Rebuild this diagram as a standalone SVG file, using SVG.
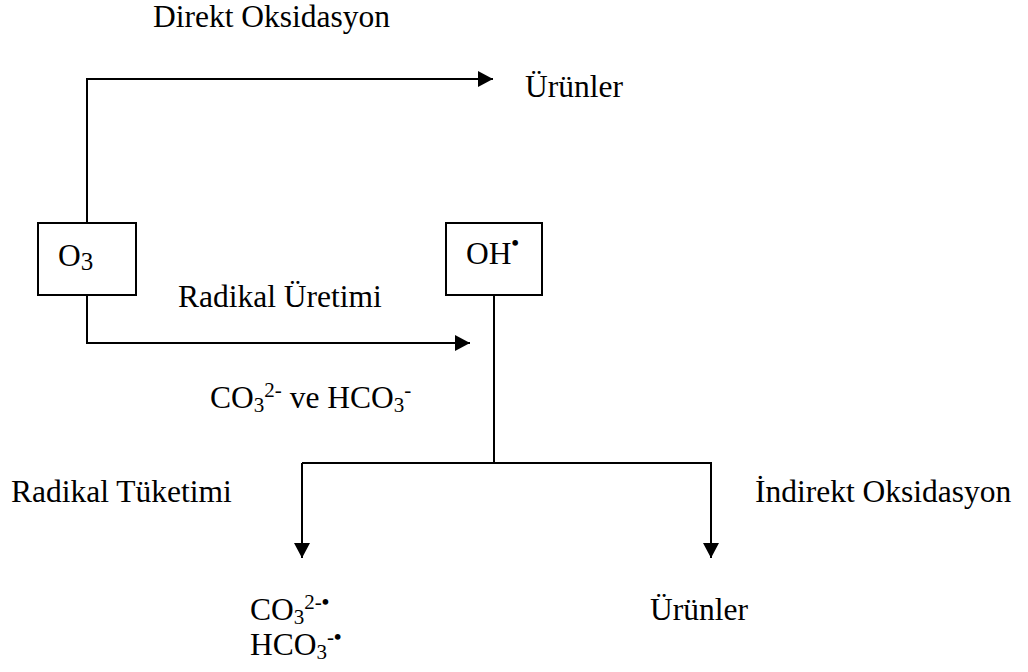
<svg xmlns="http://www.w3.org/2000/svg" width="1028" height="672" viewBox="0 0 1028 672">
<style>
text{font-family:"Liberation Serif","Times New Roman",serif;font-size:31.5px;fill:#000}
.sub{font-size:21px}
.sup{font-size:21px}
.sub3{font-size:25px}
.dot{font-size:21px;font-weight:bold}
.box{fill:#fff;stroke:#000;stroke-width:2}
.ln{fill:none;stroke:#000;stroke-width:2}
</style>
<defs>
<marker id="ah" markerUnits="userSpaceOnUse" markerWidth="16" markerHeight="18" refX="15" refY="8" orient="auto">
<polygon points="0,0 15,8 0,16" fill="#000"/>
</marker>
</defs>
<g id="connectors">
<polyline class="ln" points="87,223 87,79 493,79" marker-end="url(#ah)"/>
<polyline class="ln" points="87,295 87,343 470,343" marker-end="url(#ah)"/>
<line class="ln" x1="494" y1="295" x2="494" y2="463"/>
<polyline class="ln" points="302,463 711,463 711,558" marker-end="url(#ah)"/>
<line class="ln" x1="302" y1="463" x2="302" y2="558" marker-end="url(#ah)"/>
</g>
<g id="label-direkt"><text x="153" y="27">Direkt Oksidasyon</text></g>
<g id="node-urunler-top"><text x="525" y="97">Ürünler</text></g>
<g id="node-o3">
<rect class="box" x="38" y="223" width="98" height="72"/>
<text x="58" y="266">O<tspan class="sub3" dy="4">3</tspan></text>
</g>
<g id="node-oh">
<rect class="box" x="446" y="223" width="96" height="72"/>
<text x="466" y="264">OH<tspan class="dot" dy="-14">•</tspan></text>
</g>
<g id="label-radikal-uretimi"><text x="178" y="307">Radikal Üretimi</text></g>
<g id="label-co3"><text x="210" y="408">CO<tspan class="sub" dy="4">3</tspan><tspan class="sup" dy="-15">2-</tspan><tspan dy="11"> ve HCO</tspan><tspan class="sub" dy="4">3</tspan><tspan class="sup" dy="-15">-</tspan></text></g>
<g id="label-radikal-tuketimi"><text x="11" y="502">Radikal Tüketimi</text></g>
<g id="label-indirekt"><text x="755" y="502">İndirekt Oksidasyon</text></g>
<g id="node-radicals">
<text x="250" y="620">CO<tspan class="sub" dy="4">3</tspan><tspan class="sup" dy="-15">2-</tspan><tspan class="dot">•</tspan></text>
<text x="250" y="655">HCO<tspan class="sub" dy="4">3</tspan><tspan class="sup" dy="-15">-</tspan><tspan class="dot">•</tspan></text>
</g>
<g id="node-urunler-bottom"><text x="650" y="620">Ürünler</text></g>
</svg>
